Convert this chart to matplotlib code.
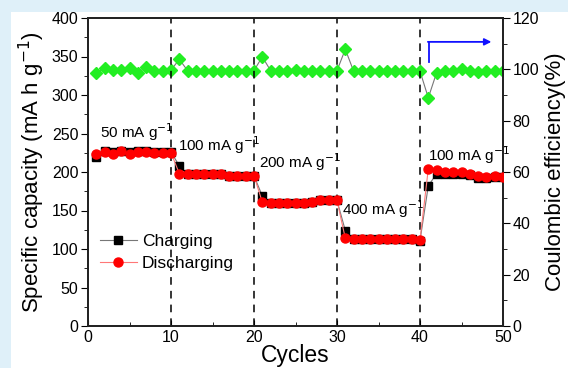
import numpy as np
import matplotlib
matplotlib.use('Agg')
import matplotlib.pyplot as plt
from matplotlib.patches import Rectangle

plt.rcParams['font.family'] = ['Liberation Sans', 'DejaVu Sans']

# data
cycles = np.arange(1, 51)
charging = [220, 227, 226, 227, 226, 227, 227, 226, 226, 226,
            208, 197, 197, 197, 197, 198, 195, 195, 195, 195,
            169, 160, 160, 160, 160, 160, 161, 163, 163, 163,
            124, 113, 113, 113, 113, 113, 113, 113, 113, 111,
            182, 198, 198, 198, 198, 196, 192, 192, 194, 194]
discharging = [223, 226, 224, 227, 224, 226, 226, 225, 225, 225,
               198, 197, 197, 197, 198, 198, 195, 195, 195, 195,
               161, 160, 160, 160, 160, 160, 161, 163, 163, 163,
               114, 113, 113, 113, 113, 113, 113, 113, 113, 112,
               204, 202, 200, 200, 200, 197, 195, 193, 195, 194]
efficiency = [98.7, 100.4, 99.7, 99.7, 100.4, 98.7, 100.8, 99.2, 99.2, 99.7,
              103.9, 99.5, 99.5, 99.5, 99.5, 99.5, 99.5, 99.5, 99.5, 99.5,
              104.9, 99.5, 99.5, 99.5, 99.7, 99.2, 99.5, 99.5, 99.5, 99.5,
              107.8, 99.3, 99.3, 99.3, 99.3, 99.3, 99.3, 99.3, 99.3, 99.3,
              88.9, 98.7, 99.3, 99.3, 100.0, 99.3, 98.9, 99.3, 99.3, 99.3]
rate_switch = [10, 20, 30, 40]
rate_labels = ['50 mA g$^{-1}$', '100 mA g$^{-1}$', '200 mA g$^{-1}$',
               '400 mA g$^{-1}$', '100 mA g$^{-1}$']
label_pos = [(1.45, 252), (10.8, 235), (20.65, 213), (30.65, 152), (40.95, 222)]

fig = plt.figure(figsize=(5.68, 3.68), dpi=100)
fig.patch.set_facecolor('#dff0f9')
fig.patches.append(Rectangle((11 / 568, 0), 1, 1 - 12 / 368, transform=fig.transFigure,
                             facecolor='white', edgecolor='none', zorder=-5))
ax = fig.add_axes([88 / 568, 1 - 326 / 368, 415 / 568, 308 / 368])
ax2 = ax.twinx()
ax.set_zorder(ax2.get_zorder() + 1)
ax.patch.set_visible(False)

for s in rate_switch:
    ax.plot([s, s], [0, 400], color='black', ls=(0, (5, 4)), lw=1.1, zorder=1)

ax.plot(cycles, charging, color='#777777', lw=0.8, marker='s', ms=5.5,
        mfc='black', mec='black', label='Charging', zorder=3)
ax.plot(cycles, discharging, color='#ff7777', lw=0.8, marker='o', ms=6.5,
        mfc='#ff0000', mec='#ff0000', label='Discharging', zorder=4)
ax2.plot(cycles, efficiency, color='#777777', lw=0.8, marker='D', ms=5.8,
         mfc='#22ee22', mec='#22ee22')

for txt, (x, y) in zip(rate_labels, label_pos):
    ax.text(x, y, txt, fontsize=11, va='center', ha='left')

# blue arrow pointing to the right axis
ax.plot([41.1, 41.1], [343, 369], color='#1010ff', lw=1.3)
ax.annotate('', xy=(48.6, 369), xytext=(40.95, 369),
            arrowprops=dict(arrowstyle='-|>', color='#1010ff', lw=1.3,
                            mutation_scale=10, shrinkA=0, shrinkB=0))

ax.set_xlim(0, 50)
ax.set_ylim(0, 400)
ax2.set_ylim(0, 120)
ax.set_xticks(np.arange(0, 51, 10))
ax.set_xticks(np.arange(0, 51, 5), minor=True)
ax.set_yticks(np.arange(0, 401, 50))
ax.set_yticks(np.arange(0, 401, 25), minor=True)
ax2.set_yticks(np.arange(0, 121, 20))
ax2.set_yticks(np.arange(0, 121, 10), minor=True)

ax.tick_params(axis='x', which='both', direction='in', labelsize=11.5, pad=3)
ax.tick_params(axis='x', which='major', length=4)
ax.tick_params(axis='x', which='minor', length=3)
ax.tick_params(axis='y', which='both', direction='out', labelsize=11.5, pad=2)
ax.tick_params(axis='y', which='major', length=5)
ax.tick_params(axis='y', which='minor', length=3)
ax2.tick_params(axis='y', which='both', direction='out', labelsize=11.5, pad=2)
ax2.tick_params(axis='y', which='major', length=5)
ax2.tick_params(axis='y', which='minor', length=3)
for a in (ax, ax2):
    for sp in a.spines.values():
        sp.set_linewidth(1.3)
        sp.set_color('#222222')

ax.set_xlabel('Cycles', fontsize=16.5, labelpad=-0.5)
ax.set_ylabel('Specific capacity (mA h g$^{-1}$)', fontsize=16, labelpad=3)
ax2.set_ylabel('Coulombic efficiency(%)', fontsize=16, labelpad=4)

ax.legend(loc='upper left', bbox_to_anchor=(0.0, 0.34), frameon=False,
          fontsize=12.5, handlelength=2.1, handletextpad=0.3, labelspacing=0.4,
          borderaxespad=0.3)

fig.savefig('out.png', dpi=100, facecolor=fig.get_facecolor())
